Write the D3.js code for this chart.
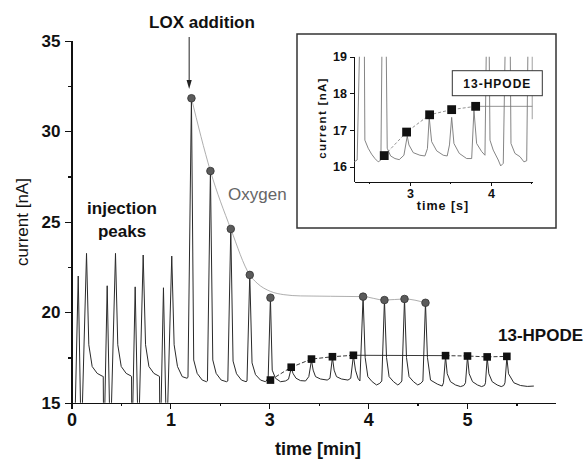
<!DOCTYPE html>
<html>
<meta charset="utf-8">
<style>
  body { margin: 0; background: #fff; }
  svg {
    width: 584px;
    height: 470px;
    display: block;
    font-family: "Liberation Sans", Arial, sans-serif;
  }
  .axis path, .axis line {
    stroke: #111;
    stroke-width: 1.2;
    shape-rendering: crispEdges;
  }
  .axis text {
    font-weight: bold;
    fill: #111;
  }
</style>
<body>
  <svg></svg>
</body>

<script src="https://d3js.org/d3.v7.min.js"></script>

<script>

// main trace: [time (axis position), current nA]; 14 means below the axis (gets clipped)
var trace = [
  [0.035,14],[0.068,22.0],[0.094,14],[0.106,14],[0.152,23.25],[0.175,18.2],[0.209,17.0],[0.260,16.62],[0.310,16.47],[0.321,16.45],[0.324,14],
  [0.334,14],[0.361,21.46],[0.387,14],[0.400,14],[0.445,23.25],[0.468,18.2],[0.503,17.0],[0.553,16.62],[0.604,16.47],[0.607,16.45],[0.610,14],
  [0.617,14],[0.644,21.4],[0.671,14],[0.683,14],[0.725,23.16],[0.749,18.2],[0.783,17.0],[0.833,16.62],[0.884,16.47],[0.890,16.45],[0.893,14],
  [0.903,14],[0.930,21.35],[0.957,14],[0.969,14],[1.014,23.1],[1.038,18.2],[1.072,17.0],[1.120,16.44],[1.168,16.35],
  [1.178,16.4],[1.213,31.82],[1.236,17.36],[1.271,16.62],[1.322,16.25],[1.365,16.16],
  [1.375,16.2],[1.405,27.8],[1.429,17.36],[1.463,16.62],[1.514,16.25],[1.568,16.16],
  [1.581,16.2],[1.611,24.6],[1.634,17.3],[1.669,16.6],[1.719,16.25],[1.765,16.16],
  [1.775,16.2],[1.803,22.06],[1.826,17.2],[1.861,16.55],[1.912,16.25],[1.962,16.16],
  [1.989,16.35],[2.012,20.8],[2.030,16.8],[2.063,16.35],[2.114,16.16],[2.164,16.2],
  [2.195,16.3],[2.222,16.9],[2.242,16.6],[2.271,16.35],[2.316,16.22],[2.367,16.2],
  [2.400,16.44],[2.427,17.35],[2.444,16.8],[2.468,16.44],[2.518,16.31],[2.586,16.25],[2.614,16.35],
  [2.639,17.5],[2.656,16.8],[2.680,16.44],[2.730,16.31],[2.796,16.25],[2.824,16.35],
  [2.851,17.6],[2.872,16.8],[2.897,16.35],[2.917,16.2],
  [2.949,20.86],[2.970,17.5],[2.997,16.44],[3.041,16.16],[3.085,15.98],[3.118,16.07],[3.138,16.2],
  [3.165,20.67],[3.186,17.5],[3.212,16.44],[3.257,16.16],[3.300,15.98],[3.323,16.07],[3.341,16.2],
  [3.368,20.73],[3.388,17.5],[3.414,16.44],[3.459,16.16],[3.502,15.98],[3.533,16.07],[3.554,16.2],
  [3.580,20.52],[3.600,17.5],[3.631,16.25],[3.699,16.03],[3.749,15.92],[3.762,16.1],
  [3.783,17.55],[3.800,16.6],[3.833,16.16],[3.884,15.98],[3.934,15.89],[3.968,15.95],[3.985,16.1],
  [4.005,17.55],[4.022,16.6],[4.056,16.16],[4.106,15.98],[4.147,15.89],[4.177,15.95],[4.187,16.1],
  [4.204,17.5],[4.221,16.6],[4.255,16.16],[4.305,15.98],[4.346,15.89],[4.372,15.95],[4.384,16.1],
  [4.403,17.5],[4.420,16.6],[4.474,16.1],[4.541,15.95],[4.610,15.9],[4.676,15.92]
];

// oxygen peak heights
var oxyT = [1.213, 1.405, 1.611, 1.803, 2.012, 2.949, 3.165, 3.368, 3.580];
var oxyI = [31.82, 27.8, 24.6, 22.06, 20.8, 20.86, 20.67, 20.73, 20.52];
// the grey decay line through the oxygen peaks
var oxyLine = [[1.213,31.82],[1.405,27.8],[1.611,24.6],[1.803,22.06],[1.878,21.6],[2.012,21.15],
  [2.147,20.97],[2.316,20.9],[2.619,20.88],[2.949,20.86],[3.165,20.67],[3.368,20.73],[3.580,20.52]];

// 13-HPODE peak heights
var hpT = [2.012, 2.222, 2.427, 2.639, 2.851, 3.783, 4.005, 4.204, 4.403];
var hpI = [16.25, 16.96, 17.41, 17.54, 17.62, 17.6, 17.58, 17.53, 17.56];

var yTicks = [15, 20, 25, 30, 35];
var yMinor = [17.5, 22.5, 27.5, 32.5];
var xTickPos = [0, 1, 2, 3, 4];
var xTickLabels = ["0", "1", "3", "4", "5"];
var xMinor = [0.5, 1.5, 2.5, 3.5, 4.5];

// inset: time [s], current [nA]; 20 means above the inset frame (clipped)
var insetTrace = [
  [2.312,16.14],[2.349,16.19],[2.386,20],[2.436,20],[2.444,16.73],[2.485,16.51],[2.527,16.35],[2.568,16.23],[2.609,16.14],
  [2.642,16.19],[2.658,20],[2.704,20],[2.720,16.51],[2.762,16.3],[2.815,16.23],[2.868,16.2],[2.926,16.32],
  [2.967,16.84],[2.988,16.6],[3.041,16.39],[3.123,16.32],[3.185,16.3],[3.216,16.5],[3.238,17.35],[3.268,16.69],
  [3.330,16.44],[3.411,16.32],[3.460,16.3],[3.488,16.6],[3.515,17.35],[3.543,16.64],[3.609,16.37],[3.700,16.23],
  [3.762,16.23],[3.790,17.55],[3.823,16.64],[3.885,16.42],[3.926,16.32],[3.947,20],[3.975,20],[3.988,16.73],
  [4.028,16.46],[4.090,16.19],[4.120,16.03],[4.152,16.1],[4.181,20],[4.235,20],[4.247,16.64],[4.296,16.37],
  [4.358,16.28],[4.407,16.14],[4.441,16.17],[4.460,20],[4.510,20],[4.510,17.3]
];
var insetSqT = [2.683, 2.959, 3.243, 3.515, 3.811];
var insetSqI = [16.31, 16.95, 17.42, 17.56, 17.65];
var insetYTicks = [16, 17, 18, 19];
var insetXTicks = [3, 4];
var insetXMinor = [2.5, 3.5, 4.5];

var svg = d3.select("svg");

var x = d3.scaleLinear().domain([0, 4.89]).range([71.5, 555]);
var y = d3.scaleLinear().domain([15, 35]).range([402.7, 40.7]);

svg.append("defs").append("clipPath").attr("id", "plotclip")
  .append("rect").attr("x", 71.5).attr("y", 40.7).attr("width", 555 - 71.5).attr("height", 402.7 - 40.7);

// axes
svg.append("g").attr("class", "axis").attr("transform", "translate(71.5,0)")
  .call(d3.axisLeft(y).tickValues(yMinor).tickSize(3.5).tickFormat("").tickSizeOuter(0));
svg.append("g").attr("class", "axis").attr("transform", "translate(71.5,0)")
  .call(d3.axisLeft(y).tickValues(yTicks).tickSize(7).tickPadding(4).tickSizeOuter(0))
  .selectAll("text").style("font-size", "17px");

svg.append("g").attr("class", "axis").attr("transform", "translate(0,402.7)")
  .call(d3.axisBottom(x).tickValues(xMinor).tickSize(3.5).tickFormat("").tickSizeOuter(0));
svg.append("g").attr("class", "axis").attr("transform", "translate(0,402.7)")
  .call(d3.axisBottom(x).tickValues(xTickPos).tickSize(6.5).tickPadding(4).tickSizeOuter(0)
    .tickFormat(function(d, i) { return xTickLabels[i]; }))
  .selectAll("text").style("font-size", "18px");

// trace
var plot = svg.append("g").attr("clip-path", "url(#plotclip)");
plot.append("path")
  .datum(trace)
  .attr("fill", "none")
  .attr("stroke", "#2a2a2a")
  .attr("stroke-width", 1)
  .attr("d", d3.line().x(function(d) { return x(d[0]); }).y(function(d) { return y(d[1]); }));

// oxygen decay line
svg.append("path")
  .datum(oxyLine)
  .attr("fill", "none")
  .attr("stroke", "#999")
  .attr("stroke-width", 0.8)
  .attr("d", d3.line().curve(d3.curveMonotoneX).x(function(d) { return x(d[0]); }).y(function(d) { return y(d[1]); }));

// 13-HPODE line: dashed between squares, solid across the oxygen peaks
var hpPts = hpT.map(function(t, i) { return [t, hpI[i]]; });
var hpLine = d3.line().x(function(d) { return x(d[0]); }).y(function(d) { return y(d[1]); });
svg.append("path").datum(hpPts.slice(0, 5))
  .attr("fill", "none").attr("stroke", "#222").attr("stroke-width", 0.9).attr("stroke-dasharray", "4,2")
  .attr("d", hpLine);
svg.append("path").datum(hpPts.slice(4, 6))
  .attr("fill", "none").attr("stroke", "#222").attr("stroke-width", 0.9)
  .attr("d", hpLine);
svg.append("path").datum(hpPts.slice(5))
  .attr("fill", "none").attr("stroke", "#222").attr("stroke-width", 0.9).attr("stroke-dasharray", "4,2")
  .attr("d", hpLine);

svg.selectAll("circle.oxy")
  .data(oxyT)
  .enter().append("circle")
    .attr("class", "oxy")
    .attr("cx", function(d) { return x(d); })
    .attr("cy", function(d, i) { return y(oxyI[i]); })
    .attr("r", 3.8)
    .attr("fill", "#5b5b5b")
    .attr("stroke", "#333")
    .attr("stroke-width", 0.8);

svg.selectAll("rect.hp")
  .data(hpT)
  .enter().append("rect")
    .attr("class", "hp")
    .attr("x", function(d) { return x(d) - 3.8; })
    .attr("y", function(d, i) { return y(hpI[i]) - 3.8; })
    .attr("width", 7.6)
    .attr("height", 7.6)
    .attr("fill", "#111");

// labels
svg.append("text")
  .attr("transform", "translate(28,222) rotate(-90)")
  .attr("text-anchor", "middle")
  .style("font-size", "17px")
  .attr("fill", "#111")
  .text("current [nA]");

svg.append("text")
  .attr("x", 318).attr("y", 455)
  .attr("text-anchor", "middle")
  .style("font-size", "18px").style("font-weight", "bold")
  .attr("fill", "#111")
  .text("time [min]");

svg.append("text")
  .attr("x", 202).attr("y", 28)
  .attr("text-anchor", "middle")
  .style("font-size", "17px").style("font-weight", "bold")
  .attr("fill", "#111")
  .text("LOX addition");

// arrow
svg.append("line")
  .attr("x1", x(1.19)).attr("y1", 37)
  .attr("x2", x(1.19)).attr("y2", 82)
  .attr("stroke", "#222").attr("stroke-width", 1);
svg.append("path")
  .attr("d", "M" + (x(1.19) - 2.6) + ",80 L" + (x(1.19) + 2.6) + ",80 L" + x(1.19) + ",89 Z")
  .attr("fill", "#222");

svg.append("text")
  .attr("x", 228).attr("y", 200)
  .style("font-size", "17px")
  .attr("fill", "#666")
  .text("Oxygen");

svg.append("text")
  .attr("x", 122).attr("y", 214)
  .attr("text-anchor", "middle")
  .style("font-size", "17px").style("font-weight", "bold")
  .attr("fill", "#111")
  .text("injection");
svg.append("text")
  .attr("x", 122).attr("y", 237)
  .attr("text-anchor", "middle")
  .style("font-size", "17px").style("font-weight", "bold")
  .attr("fill", "#111")
  .text("peaks");

svg.append("text")
  .attr("x", 498).attr("y", 341)
  .style("font-size", "17px").style("font-weight", "bold")
  .attr("fill", "#111")
  .text("13-HPODE");

// ---- inset ----
var inset = svg.append("g");
inset.append("rect")
  .attr("x", 297).attr("y", 34).attr("width", 259).attr("height", 194)
  .attr("fill", "#fff").attr("stroke", "#333").attr("stroke-width", 1.5);

var ix = d3.scaleLinear().domain([2.31, 4.515]).range([354, 532.7]);
var iy = d3.scaleLinear().domain([15.6, 19]).range([181.7, 56.7]);

inset.append("defs").append("clipPath").attr("id", "insetclip")
  .append("rect").attr("x", 354).attr("y", 56.7).attr("width", 532.7 - 354).attr("height", 181.7 - 56.7);

var iAxisY = inset.append("g").attr("class", "axis").attr("transform", "translate(354,0)")
  .call(d3.axisLeft(iy).tickValues(insetYTicks).tickSize(4).tickPadding(3).tickSizeOuter(0)
    .tickFormat(d3.format("d")));
iAxisY.selectAll("text").style("font-size", "12.5px");
iAxisY.selectAll("path, line").style("stroke-width", 1);

var iAxisX = inset.append("g").attr("class", "axis").attr("transform", "translate(0,181.7)")
  .call(d3.axisBottom(ix).tickValues(insetXTicks).tickSize(4).tickPadding(3).tickSizeOuter(0)
    .tickFormat(d3.format("d")));
iAxisX.selectAll("text").style("font-size", "12.5px");
iAxisX.selectAll("path, line").style("stroke-width", 1);
inset.append("g").attr("class", "axis").attr("transform", "translate(0,181.7)")
  .call(d3.axisBottom(ix).tickValues(insetXMinor).tickSize(2.5).tickFormat("").tickSizeOuter(0))
  .selectAll("path, line").style("stroke-width", 1);

inset.append("g").attr("clip-path", "url(#insetclip)")
  .append("path")
  .datum(insetTrace)
  .attr("fill", "none")
  .attr("stroke", "#777")
  .attr("stroke-width", 0.9)
  .attr("d", d3.line().x(function(d) { return ix(d[0]); }).y(function(d) { return iy(d[1]); }));

var iPts = insetSqT.map(function(t, i) { return [t, insetSqI[i]]; });
var iLine = d3.line().x(function(d) { return ix(d[0]); }).y(function(d) { return iy(d[1]); });
inset.append("path").datum(iPts)
  .attr("fill", "none").attr("stroke", "#777").attr("stroke-width", 0.8).attr("stroke-dasharray", "3,2")
  .attr("d", iLine);
inset.append("path").datum([iPts[4], [4.51, insetSqI[4]]])
  .attr("fill", "none").attr("stroke", "#777").attr("stroke-width", 0.8)
  .attr("d", iLine);

inset.selectAll("rect.isq")
  .data(insetSqT)
  .enter().append("rect")
    .attr("class", "isq")
    .attr("x", function(d) { return ix(d) - 4.4; })
    .attr("y", function(d, i) { return iy(insetSqI[i]) - 4.4; })
    .attr("width", 8.8)
    .attr("height", 8.8)
    .attr("fill", "#111");

inset.append("rect")
  .attr("x", 452.3).attr("y", 70.7).attr("width", 90).attr("height", 25)
  .attr("fill", "#fff").attr("stroke", "#333").attr("stroke-width", 1);
inset.append("text")
  .attr("x", 497.3).attr("y", 87.5)
  .attr("text-anchor", "middle")
  .style("font-size", "12px").style("font-weight", "bold").style("letter-spacing", "1px")
  .attr("fill", "#111")
  .text("13-HPODE");

inset.append("text")
  .attr("transform", "translate(326,118) rotate(-90)")
  .attr("text-anchor", "middle")
  .style("font-size", "11.5px").style("font-weight", "bold").style("letter-spacing", "1.3px")
  .attr("fill", "#111")
  .text("current [nA]");

inset.append("text")
  .attr("x", 443).attr("y", 210)
  .attr("text-anchor", "middle")
  .style("font-size", "12.5px").style("font-weight", "bold").style("letter-spacing", "1px")
  .attr("fill", "#111")
  .text("time [s]");

</script>

</html>
